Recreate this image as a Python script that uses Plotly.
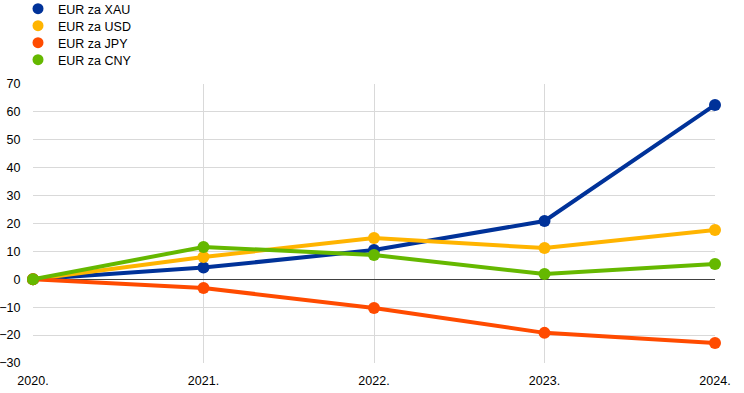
import plotly.graph_objects as go

years = ["2020.", "2021.", "2022.", "2023.", "2024."]
series_names = ["EUR za XAU", "EUR za USD", "EUR za JPY", "EUR za CNY"]
xau = [0, 4.2, 10.5, 20.9, 62.5]
usd = [0, 8.0, 14.8, 11.2, 17.7]
jpy = [0, -3.1, -10.3, -19.2, -22.8]
cny = [0, 11.6, 8.7, 1.9, 5.5]
colors = ["#003299", "#ffb400", "#ff4b00", "#65b800"]
y_ticks = [-30, -20, -10, 0, 10, 20, 30, 40, 50, 60, 70]

W, H = 744, 393
ML, MR, MT, MB = 33, 29, 84, 30
plot_h = H - MT - MB
legend_rows_px = [9, 26, 43, 60]  # vertical centre of each legend row (px from top)
legend_ids = ["legend", "legend2", "legend3", "legend4"]

fig = go.Figure()
for name, vals, col in zip(series_names, [xau, usd, jpy, cny], colors):
    fig.add_trace(go.Scatter(
        x=list(range(len(years))), y=vals, name=name, mode="lines+markers",
        line=dict(color=col, width=4),
        marker=dict(color=col, size=12),
        cliponaxis=False, showlegend=False, legendgroup=name,
    ))
# legend entries (marker only, as in the reference), one legend per row
for name, col, lg in zip(series_names, colors, legend_ids):
    fig.add_trace(go.Scatter(
        x=[None], y=[None], name=name, mode="markers",
        marker=dict(color=col, size=11), legendgroup=name, legend=lg,
    ))

legend_layouts = {}
for lg, row in zip(legend_ids, legend_rows_px):
    legend_layouts[lg] = dict(
        x=18 / W, y=1 + (MT - row) / plot_h, xref="container", yref="paper",
        xanchor="left", yanchor="middle", font=dict(size=12.5),
        itemwidth=30, bgcolor="rgba(0,0,0,0)",
    )

fig.update_layout(
    width=W, height=H,
    margin=dict(l=ML, r=MR, t=MT, b=MB, autoexpand=False),
    paper_bgcolor="white", plot_bgcolor="white",
    font=dict(family="Liberation Sans, Arial", size=12, color="#000000"),
    showlegend=True,
    **legend_layouts,
)
fig.update_xaxes(
    tickvals=list(range(len(years))), ticktext=years,
    range=[0, len(years) - 1], showgrid=True, gridcolor="#d9d9d9", gridwidth=1,
    zeroline=False, showline=False, ticks="outside", ticklen=6,
    tickcolor="rgba(0,0,0,0)", tickfont=dict(size=12.5),
)
fig.update_yaxes(
    range=[-30, 70], tickvals=y_ticks, showgrid=True, gridcolor="#d9d9d9",
    gridwidth=1, zeroline=True, zerolinecolor="#404040", zerolinewidth=1,
    showline=False, ticks="outside", ticklen=9, tickcolor="rgba(0,0,0,0)",
    tickfont=dict(size=12.5),
)
fig.write_html("out.html", config={"displayModeBar": False},
               post_script="document.body.style.margin='0';")
